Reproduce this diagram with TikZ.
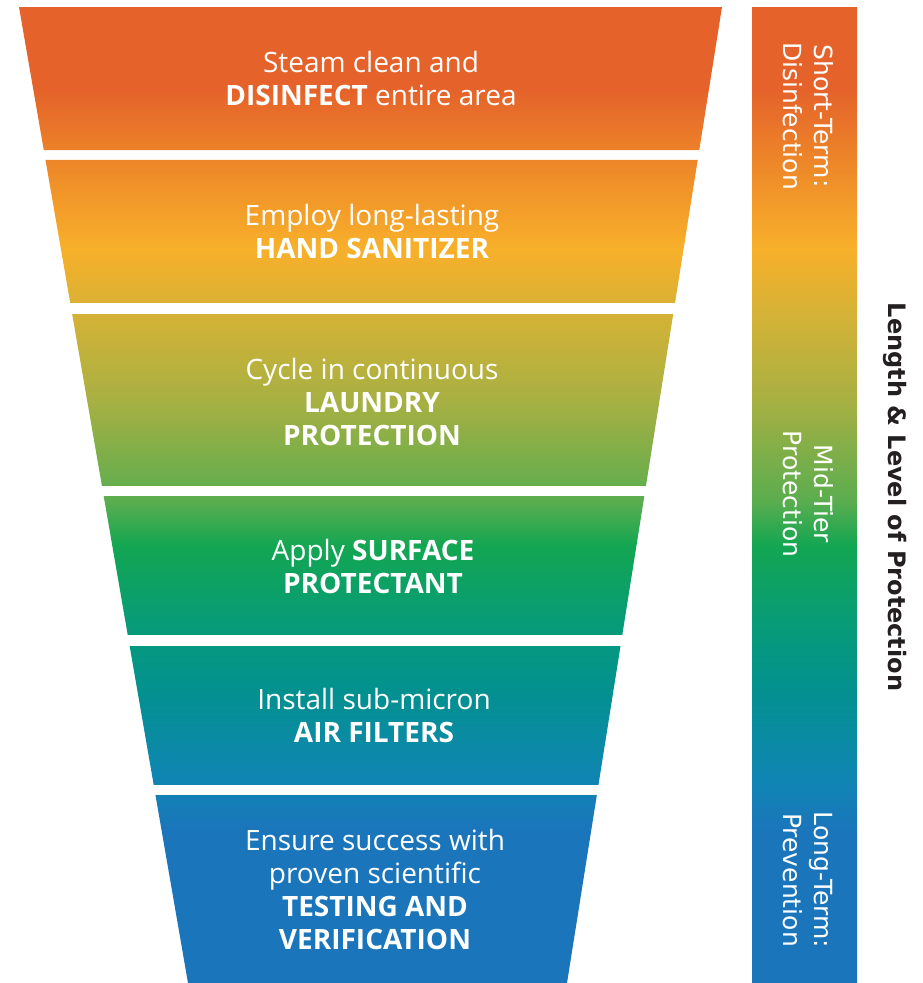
\documentclass[tikz,border=0pt]{standalone}
\usepackage{fontspec}
\setmainfont{Open Sans}
\newfontfamily\barfamily{DejaVu Sans}
\usetikzlibrary{calc}
\definecolor{lpBlue}{RGB}{27,117,187}
\definecolor{lpSky}{RGB}{15,133,179}
\definecolor{lpTeal}{RGB}{3,145,143}
\definecolor{lpJade}{RGB}{7,156,118}
\definecolor{lpGreen}{RGB}{19,166,82}
\definecolor{lpLeaf}{RGB}{91,173,79}
\definecolor{lpOlive}{RGB}{168,176,66}
\definecolor{lpMustard}{RGB}{210,178,55}
\definecolor{lpAmber}{RGB}{248,176,42}
\definecolor{lpOrange}{RGB}{238,138,41}
\definecolor{lpRed}{RGB}{229,98,42}
\definecolor{lpInk}{RGB}{35,31,32}
\pgfdeclareverticalshading{protection}{100bp}{
    color(0bp)=(lpBlue); color(25bp)=(lpBlue); color(32.8bp)=(lpBlue);
    color(35.4bp)=(lpSky); color(40bp)=(lpTeal); color(43.6bp)=(lpJade);
    color(47.4bp)=(lpGreen); color(49.7bp)=(lpLeaf); color(54.9bp)=(lpOlive);
    color(59bp)=(lpMustard); color(62.6bp)=(lpAmber); color(66.7bp)=(lpOrange);
    color(70.8bp)=(lpRed); color(75bp)=(lpRed); color(100bp)=(lpRed)}
\newcommand{\bandfont}{\fontsize{28}{33}\selectfont}
\newcommand{\barfont}{\barfamily\fontsize{25}{31}\selectfont}
\newcommand{\axisfont}{\barfamily\bfseries\fontsize{24}{30}\selectfont}
\tikzset{
    bandtext/.style={text=white, align=center, inner sep=0pt, font=\bandfont},
    barlabel/.style={text=white, align=center, inner sep=0pt, rotate=-90, font=\barfont},
    axislabel/.style={text=lpInk, inner sep=0pt, rotate=-90, font=\axisfont}
}
\begin{document}
\begin{tikzpicture}[x=1pt, y=-1pt]
    \useasboundingbox (0,0) rectangle (923,983);

    % funnel outline and side bar
    \coordinate (tl) at (19,7);
    \coordinate (tr) at (722,7);
    \coordinate (bl) at (188,983);
    \coordinate (br) at (567,983);
    \coordinate (bar-nw) at (752,7);
    \coordinate (bar-se) at (857,983);

    \begin{scope}
        \clip foreach \t/\b in {7/150, 160/303, 314/486, 496/635, 646/785, 795/983} {
                ($(tl)!{(\t-7)/976}!(bl)$) -- ($(tr)!{(\t-7)/976}!(br)$)
                -- ($(tr)!{(\b-7)/976}!(br)$) -- ($(tl)!{(\b-7)/976}!(bl)$) -- cycle
            }
            (bar-nw) rectangle (bar-se);
        \shade[shading=protection] (0,7) rectangle (923,983);
    \end{scope}

    \node[bandtext] (disinfect) at (371,78.5) {Steam clean and\\\textbf{DISINFECT} entire area};
    \node[bandtext] (sanitizer) at (372,231.5) {Employ long-lasting\\\textbf{HAND SANITIZER}};
    \node[bandtext] (laundry) at (372,402) {Cycle in continuous\\\textbf{LAUNDRY}\\\textbf{PROTECTION}};
    \node[bandtext] (surface) at (373,566) {Apply \textbf{SURFACE}\\\textbf{PROTECTANT}};
    \node[bandtext] (filters) at (374,715.5) {Install sub-micron\\\textbf{AIR FILTERS}};
    \node[bandtext] (testing) at (375,889.5) {Ensure success with\\proven scientific\\\textbf{TESTING AND}\\\textbf{VERIFICATION}};

    \node[barlabel] (short-term) at (808,116) {Short-Term:\\Disinfection};
    \node[barlabel] (mid-tier) at (808,494) {Mid-Tier\\Protection};
    \node[barlabel] (long-term) at (808,880) {Long-Term:\\Prevention};

    \node[axislabel] (axis) at (895,497) {Length \& Level of Protection};
\end{tikzpicture}
\end{document}
